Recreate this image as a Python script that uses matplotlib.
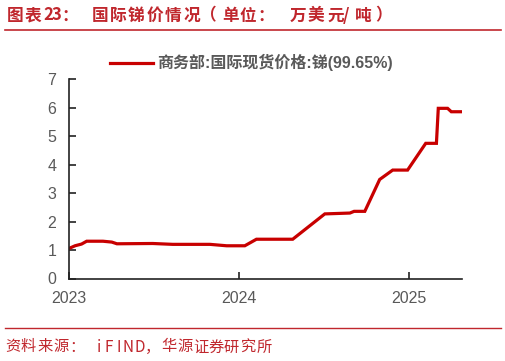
import matplotlib
matplotlib.use("Agg")
import matplotlib.pyplot as plt
import pandas as pd
from matplotlib.lines import Line2D

dates = ["2023-01-03", "2023-01-14", "2023-01-28", "2023-02-08", "2023-03-15",
         "2023-04-03", "2023-04-14", "2023-06-30", "2023-08-12", "2023-10-31",
         "2023-12-06", "2024-01-14", "2024-02-08", "2024-04-26", "2024-07-04",
         "2024-08-27", "2024-09-05", "2024-09-28", "2024-10-30", "2024-11-27",
         "2024-12-29", "2025-02-06", "2025-03-01", "2025-03-05", "2025-03-25",
         "2025-04-02", "2025-04-24"]
values = [1.07, 1.15, 1.21, 1.31, 1.31,
          1.28, 1.22, 1.23, 1.20, 1.20,
          1.15, 1.15, 1.38, 1.38, 2.27,
          2.30, 2.36, 2.36, 3.48, 3.81,
          3.81, 4.75, 4.75, 5.98, 5.98,
          5.86, 5.86]
x_ticks = ["2023-01-01", "2024-01-01", "2025-01-01"]
x_tick_labels = ["2023", "2024", "2025"]
y_ticks = [0, 1, 2, 3, 4, 5, 6, 7]
title = "图表23：国际锑价情况（单位：万美元/吨）"
legend_label = "商务部:国际现货价格:锑(99.65%)"
source = "资料来源：iFIND，华源证券研究所"

plt.rcParams['font.family'] = ['Liberation Sans', 'Noto Sans CJK SC', 'DejaVu Sans']

W, H = 506, 361
fig = plt.figure(figsize=(W / 100, H / 100), dpi=100)
ax = fig.add_axes([69 / W, 1 - 278.5 / H, (462 - 69) / W, (278.5 - 79.3) / H])

d = pd.to_datetime(dates)
ax.plot(d, values, color="#C80000", lw=2.3, solid_joinstyle="miter")

ax.set_xlim(pd.Timestamp("2023-01-01"), pd.Timestamp("2025-04-25"))
ax.set_ylim(0, 7)
ax.set_yticks(y_ticks)
ax.set_xticks(pd.to_datetime(x_ticks))
ax.set_xticklabels(x_tick_labels)
for s in ["top", "right"]:
    ax.spines[s].set_visible(False)
for s in ["left", "bottom"]:
    ax.spines[s].set_linewidth(1.2)
    ax.spines[s].set_color("#222222")
ax.tick_params(axis="both", direction="in", length=5, width=1.2, color="#222222",
               labelsize=11.5, labelcolor="#595959")
ax.tick_params(axis="x", pad=9)
ax.tick_params(axis="y", pad=9)

# legend
fig.add_artist(Line2D([110 / W, 153 / W], [1 - 62.5 / H, 1 - 62.5 / H], color="#C80000", lw=2.3,
                      transform=fig.transFigure))
fig.text(157 / W, 1 - 62.5 / H, legend_label, fontsize=11.5, fontweight="bold", color="#595959",
         va="center", ha="left", family=["Liberation Sans", "Noto Sans CJK SC"])


def placed_text(s, xs, y, size, color, weight="normal"):
    for ch, x in zip(s, xs):
        fig.text(x / W, 1 - y / H, ch, fontsize=size, color=color, va="center", ha="left",
                 fontweight=weight, family=["Noto Sans CJK SC", "DejaVu Sans"])


# title (character cell positions, px)
title_x = [7, 25, 43, 52, 61.5, 92, 110, 128, 147, 165, 183, 200, 222, 240, 257.5,
           290, 308, 327, 343, 355, 375]
placed_text(title, title_x, 15.5, 12, "#C0272D", weight="bold")
fig.add_artist(Line2D([5 / W, 501 / W], [1 - 30 / H, 1 - 30 / H], color="#C0272D", lw=1.2,
                      transform=fig.transFigure))
# footer
fig.add_artist(Line2D([5 / W, 501 / W], [1 - 327.5 / H, 1 - 327.5 / H], color="#C0272D", lw=1.0,
                      transform=fig.transFigure))
source_x = [5, 21, 37, 53, 69.5, 97, 105, 117, 123, 134, 145, 161, 177, 193, 208, 224, 240, 257]
placed_text(source, source_x, 347, 11, "#C0272D")

fig.savefig("out.png", dpi=100)
